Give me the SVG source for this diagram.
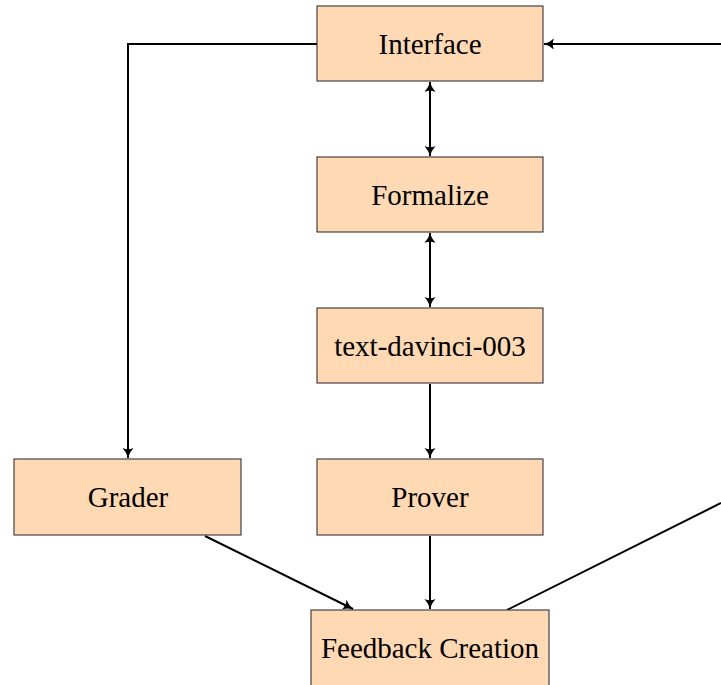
<svg xmlns="http://www.w3.org/2000/svg" width="721" height="685" viewBox="0 0 721 685">
<style>
.box{fill:#FFD9B3;stroke:#333;stroke-width:1.1}
.lbl{font-family:"Liberation Serif","Times New Roman",serif;font-size:29px;fill:#000;text-anchor:middle}
.edge{fill:none;stroke:#000;stroke-width:2}
</style>
<defs>
<marker id="ah" markerUnits="userSpaceOnUse" markerWidth="14" markerHeight="14" viewBox="-1 -7 12 14" refX="10" refY="0" orient="auto-start-reverse">
<path d="M0,-5.5 Q4.5,-1.5 10,0 Q4.5,1.5 0,5.5 Q2.5,0 0,-5.5z" fill="#000"/>
</marker>
</defs>
<g id="edges">
<path class="edge" d="M317,44 H128 V458" marker-end="url(#ah)"/>
<path class="edge" d="M721,44 H544" marker-end="url(#ah)"/>
<path class="edge" d="M430,82 V156" marker-start="url(#ah)" marker-end="url(#ah)"/>
<path class="edge" d="M430,233 V307" marker-start="url(#ah)" marker-end="url(#ah)"/>
<path class="edge" d="M430,384 V458" marker-end="url(#ah)"/>
<path class="edge" d="M430,536 V609" marker-end="url(#ah)"/>
<path class="edge" d="M205,536 L353,609" marker-end="url(#ah)"/>
<path class="edge" d="M507,610 L721,503"/>
</g>
<g id="interface"><rect class="box" x="317" y="6" width="226" height="75"/><text class="lbl" x="430" y="54">Interface</text></g>
<g id="formalize"><rect class="box" x="317" y="157" width="226" height="75"/><text class="lbl" x="430" y="205">Formalize</text></g>
<g id="davinci"><rect class="box" x="317" y="308" width="226" height="75"/><text class="lbl" x="430" y="356">text-davinci-003</text></g>
<g id="grader"><rect class="box" x="14" y="459" width="227" height="76"/><text class="lbl" x="128" y="507">Grader</text></g>
<g id="prover"><rect class="box" x="317" y="459" width="226" height="76"/><text class="lbl" x="430" y="507">Prover</text></g>
<g id="feedback"><rect class="box" x="311" y="610" width="238" height="80"/><text class="lbl" x="430" y="658">Feedback Creation</text></g>
</svg>
